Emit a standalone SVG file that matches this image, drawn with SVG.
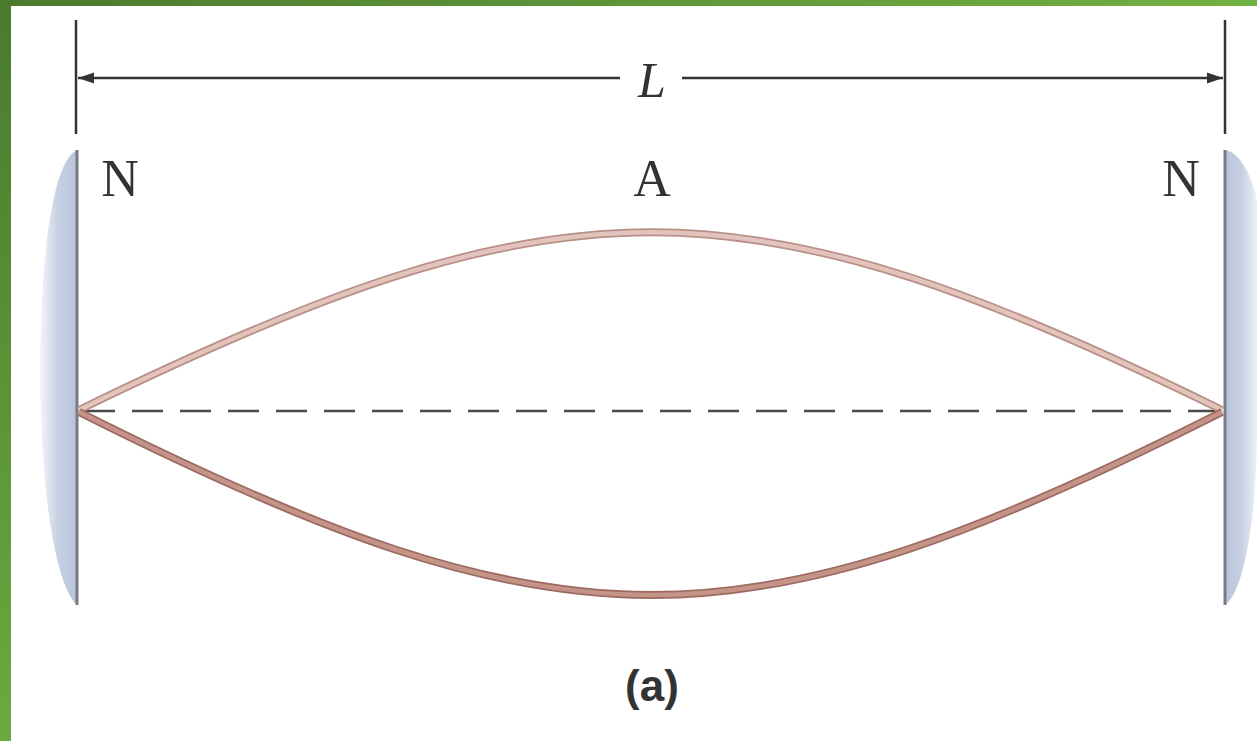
<svg xmlns="http://www.w3.org/2000/svg" width="1257" height="741" viewBox="0 0 1257 741">
<style>
.lbl{font-family:"Liberation Serif","DejaVu Serif",serif;font-size:52px;fill:#333}
.wall{stroke:#767c86;stroke-width:3}
.tick{stroke:#333;stroke-width:2.5}
.dim{stroke:#333;stroke-width:2.5;fill:none}
</style>
<defs>
<linearGradient id="gv" x1="0" y1="0" x2="0" y2="1"><stop offset="0" stop-color="#4a7a2e"/><stop offset="1" stop-color="#6aaa3e"/></linearGradient>
<linearGradient id="gh" x1="0" y1="0" x2="1" y2="0"><stop offset="0" stop-color="#4a7a2e"/><stop offset="1" stop-color="#72b143"/></linearGradient>
<linearGradient id="shL" x1="0" y1="0" x2="1" y2="0"><stop offset="0" stop-color="#c5d0e3" stop-opacity="0.2"/><stop offset="0.5" stop-color="#c5d0e3"/><stop offset="1" stop-color="#b9c4d9"/></linearGradient>
<linearGradient id="shR" x1="1" y1="0" x2="0" y2="0"><stop offset="0" stop-color="#c5d0e3" stop-opacity="0.3"/><stop offset="0.5" stop-color="#c5d0e3"/><stop offset="1" stop-color="#b9c4d9"/></linearGradient>
<marker id="ah" viewBox="0 0 10 10" refX="10" refY="5" markerWidth="28" markerHeight="16" markerUnits="userSpaceOnUse" orient="auto"><path d="M0,1.5 L10,5 L0,8.5 Z" fill="#333"/></marker>
</defs>
<rect width="1257" height="741" fill="#ffffff"/>
<rect x="0" y="0" width="1257" height="6" fill="url(#gh)"/>
<rect x="0" y="0" width="11" height="741" fill="url(#gv)"/>
<g id="wall-left">
<path d="M77,150 L77,605 C60,590 42,520 40,380 C40,240 55,160 77,150 Z" fill="url(#shL)"/>
<line class="wall" x1="77" y1="150" x2="77" y2="605"/>
</g>
<g id="wall-right">
<path d="M1225,150 L1225,605 C1240,595 1255,540 1257,440 L1257,200 C1250,170 1238,152 1225,150 Z" fill="url(#shR)"/>
<line class="wall" x1="1225" y1="150" x2="1225" y2="605"/>
</g>
<g id="dimension">
<line class="tick" x1="76" y1="20" x2="76" y2="134"/>
<line class="tick" x1="1225" y1="20" x2="1225" y2="134"/>
<line class="dim" x1="620" y1="78" x2="78" y2="78" marker-end="url(#ah)"/>
<line class="dim" x1="682" y1="78" x2="1223" y2="78" marker-end="url(#ah)"/>
<text x="652" y="97" text-anchor="middle" font-family="Liberation Serif, serif" font-style="italic" font-size="50" fill="#333">L</text>
</g>
<g id="labels">
<text class="lbl" x="120" y="196" text-anchor="middle">N</text>
<text class="lbl" x="652" y="196" text-anchor="middle">A</text>
<text class="lbl" x="1181" y="196" text-anchor="middle">N</text>
</g>
<g id="axis">
<line x1="84" y1="411" x2="1218" y2="411" stroke="#4a4a4a" stroke-width="2.5" stroke-dasharray="31 17"/>
</g>
<g id="string-upper">
<path d="M79,410 C564,173 740,173 1222,410" fill="none" stroke="#b89088" stroke-width="8"/>
<path d="M79,410 C564,173 740,173 1222,410" fill="none" stroke="#e2c4bc" stroke-width="4.5"/>
</g>
<g id="string-lower">
<path d="M79,412 C564,656 740,656 1222,412" fill="none" stroke="#9c6a60" stroke-width="8"/>
<path d="M79,412 C564,656 740,656 1222,412" fill="none" stroke="#c49488" stroke-width="4.5"/>
</g>
<text x="652" y="701" text-anchor="middle" font-family="Liberation Sans, sans-serif" font-weight="bold" font-size="44" fill="#333">(a)</text>
</svg>
